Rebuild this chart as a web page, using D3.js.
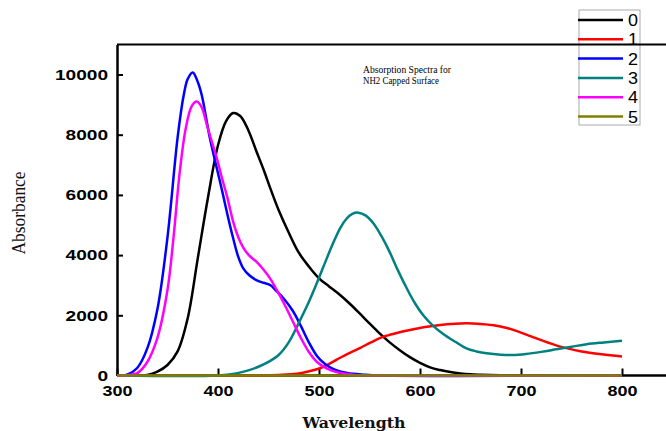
<!DOCTYPE html>
<html>
<head>
<meta charset="utf-8">
<script src="https://cdn.jsdelivr.net/npm/d3@7"></script>
<style>
  body { margin: 0; background: #fff; }
  svg { display: block; }
</style>
</head>
<body>
<svg id="chart"></svg>
<script>
// Series: [wavelength, absorbance]
const seriesNames = ["0", "1", "2", "3", "4", "5"];
const seriesColors = ["#000000", "#ff0000", "#0000ff", "#008080", "#ff00ff", "#808000"];

const s0 = [[300,0],[320,0],[330,20],[340,130],[350,350],[360,800],[370,1900],[380,3900],[390,5900],[400,7650],[408,8450],[415,8720],[422,8620],[430,8150],[438,7450],[445,6850],[452,6200],[460,5500],[470,4750],[480,4080],[490,3620],[500,3230],[510,2960],[520,2700],[530,2400],[540,2070],[550,1730],[560,1400],[570,1100],[580,840],[590,610],[600,420],[610,270],[620,180],[630,115],[640,70],[650,40],[660,25],[670,15],[680,8],[690,0],[800,0]];
const s1 = [[300,0],[440,0],[460,20],[478,60],[490,140],[501,240],[511,400],[521,590],[531,760],[541,920],[552,1110],[564,1290],[577,1410],[590,1510],[605,1610],[620,1680],[635,1720],[646,1734],[660,1715],[673,1670],[686,1580],[698,1450],[710,1300],[722,1150],[734,1010],[746,900],[760,800],[780,705],[800,630]];
const s2 = [[300,0],[310,30],[320,250],[330,900],[340,2200],[350,4600],[360,7900],[366,9300],[370,9850],[375,10070],[380,9750],[384,9300],[392,7880],[400,6720],[405,6000],[410,5250],[415,4560],[420,3950],[425,3560],[431,3330],[438,3170],[445,3080],[452,3000],[458,2800],[465,2560],[474,2150],[482,1650],[490,1100],[498,650],[506,380],[515,200],[528,80],[545,25],[560,0],[800,0]];
const s3 = [[300,0],[400,0],[418,70],[430,170],[440,290],[450,450],[460,680],[470,1100],[480,1750],[490,2450],[498,3080],[506,3750],[514,4400],[521,4900],[527,5200],[533,5370],[539,5410],[546,5320],[554,5050],[562,4620],[570,4100],[578,3500],[587,2890],[595,2400],[603,2010],[613,1650],[623,1380],[635,1120],[646,900],[656,800],[666,737],[680,690],[692,680],[705,715],[720,785],[735,870],[750,955],[765,1040],[782,1100],[800,1156]];
const s4 = [[300,0],[310,10],[320,80],[330,450],[340,1250],[350,2850],[356,4600],[362,6720],[368,8200],[374,8950],[379,9100],[384,8900],[389,8320],[394,7750],[399,7200],[404,6550],[409,5950],[415,5110],[420,4600],[425,4250],[431,3980],[438,3780],[445,3520],[452,3200],[458,2850],[466,2350],[474,1800],[482,1250],[490,780],[498,450],[508,230],[520,90],[535,20],[550,0],[800,0]];
const s5 = [[300,0],[400,0],[500,0],[600,0],[700,0],[800,0]];
const allSeries = [s0, s1, s2, s3, s4, s5];

const xTicks = [300, 400, 500, 600, 700, 800];
const yTicks = [0, 2000, 4000, 6000, 8000, 10000];
const noteLines = ["Absorption Spectra for", "NH2 Capped Surface"];

const W = 666, H = 431;
const plotLeft = 117, plotRight = 622, frameRight = 666;
const plotTop = 44.4, plotBottom = 375.5;

const svg = d3.select("#chart").attr("width", W).attr("height", H);
svg.append("rect").attr("width", W).attr("height", H).attr("fill", "#fff");

const x = d3.scaleLinear().domain([300, 800]).range([plotLeft, plotRight]);
const y = d3.scaleLinear().domain([0, 11000]).range([plotBottom, plotTop]);

// Legend (drawn first so the frame line crosses it)
const legend = svg.append("g");
legend.append("rect")
  .attr("x", 579).attr("y", 10).attr("width", 61).attr("height", 115)
  .attr("fill", "#fff").attr("stroke", "#aaa").attr("stroke-width", 1);
seriesNames.forEach((name, i) => {
  const ly = 20 + i * 19.3;
  legend.append("line")
    .attr("x1", 578).attr("x2", 623).attr("y1", ly).attr("y2", ly)
    .attr("stroke", seriesColors[i]).attr("stroke-width", 2.5);
  legend.append("text")
    .attr("x", 628).attr("y", ly + 6)
    .attr("font-family", "Liberation Sans, Arial, sans-serif")
    .attr("font-size", 16)
    .attr("textLength", 10).attr("lengthAdjust", "spacingAndGlyphs")
    .text(name);
});

// Frame lines
svg.append("line")
  .attr("x1", plotLeft).attr("x2", frameRight).attr("y1", plotTop).attr("y2", plotTop)
  .attr("stroke", "#000").attr("stroke-width", 2);
svg.append("line")
  .attr("x1", plotLeft).attr("x2", frameRight).attr("y1", plotBottom).attr("y2", plotBottom)
  .attr("stroke", "#000").attr("stroke-width", 2.5);

// Y axis
const yAxis = svg.append("g")
  .attr("transform", `translate(${plotLeft},0)`)
  .call(d3.axisLeft(y).tickValues(yTicks).tickSizeInner(-6).tickSizeOuter(0).tickPadding(9).tickFormat(d3.format("d")));
yAxis.select(".domain").attr("stroke-width", 2.5);
yAxis.selectAll(".tick line").attr("stroke-width", 2);
yAxis.selectAll(".tick text")
  .attr("font-family", "Liberation Sans, Arial, sans-serif")
  .attr("font-size", 15).attr("font-weight", "bold").attr("fill", "#000")
  .attr("textLength", d => String(d).length * 10.6)
  .attr("lengthAdjust", "spacingAndGlyphs");

// X axis
const xAxis = svg.append("g")
  .attr("transform", `translate(0,${plotBottom})`)
  .call(d3.axisBottom(x).tickValues(xTicks).tickSizeInner(-7).tickSizeOuter(0).tickPadding(10).tickFormat(d3.format("d")));
xAxis.select(".domain").remove();
xAxis.selectAll(".tick line").attr("stroke-width", 2);
xAxis.selectAll(".tick text")
  .attr("font-family", "Liberation Sans, Arial, sans-serif")
  .attr("font-size", 15).attr("font-weight", "bold").attr("fill", "#000")
  .attr("textLength", d => String(d).length * 10)
  .attr("lengthAdjust", "spacingAndGlyphs");

// Curves
const line = d3.line()
  .x(d => x(d[0]))
  .y(d => y(Math.max(0, d[1])))
  .curve(d3.curveCatmullRom.alpha(0.5));

allSeries.forEach((pts, i) => {
  svg.append("path")
    .datum(pts)
    .attr("d", line)
    .attr("fill", "none")
    .attr("stroke", seriesColors[i])
    .attr("stroke-width", 2.5)
    .attr("stroke-linejoin", "round");
});

// Axis titles
svg.append("text")
  .attr("x", 354).attr("y", 428)
  .attr("text-anchor", "middle")
  .attr("font-family", "DejaVu Serif, serif")
  .attr("font-weight", "bold").attr("font-size", 15)
  .attr("textLength", 103).attr("lengthAdjust", "spacingAndGlyphs")
  .attr("fill", "#111")
  .text("Wavelength");

svg.append("text")
  .attr("transform", "translate(25,213) rotate(-90)")
  .attr("text-anchor", "middle")
  .attr("font-family", "Liberation Serif, serif")
  .attr("font-size", 18)
  .attr("textLength", 83).attr("lengthAdjust", "spacingAndGlyphs")
  .attr("fill", "#111")
  .text("Absorbance");

// Annotation
noteLines.forEach((t, i) => {
  svg.append("text")
    .attr("x", 363).attr("y", 72.5 + i * 11)
    .attr("font-family", "Liberation Serif, serif")
    .attr("font-size", 9.5)
    .attr("textLength", i === 0 ? 88 : 76).attr("lengthAdjust", "spacingAndGlyphs")
    .attr("fill", "#000")
    .text(t);
});
</script>
</body>
</html>
